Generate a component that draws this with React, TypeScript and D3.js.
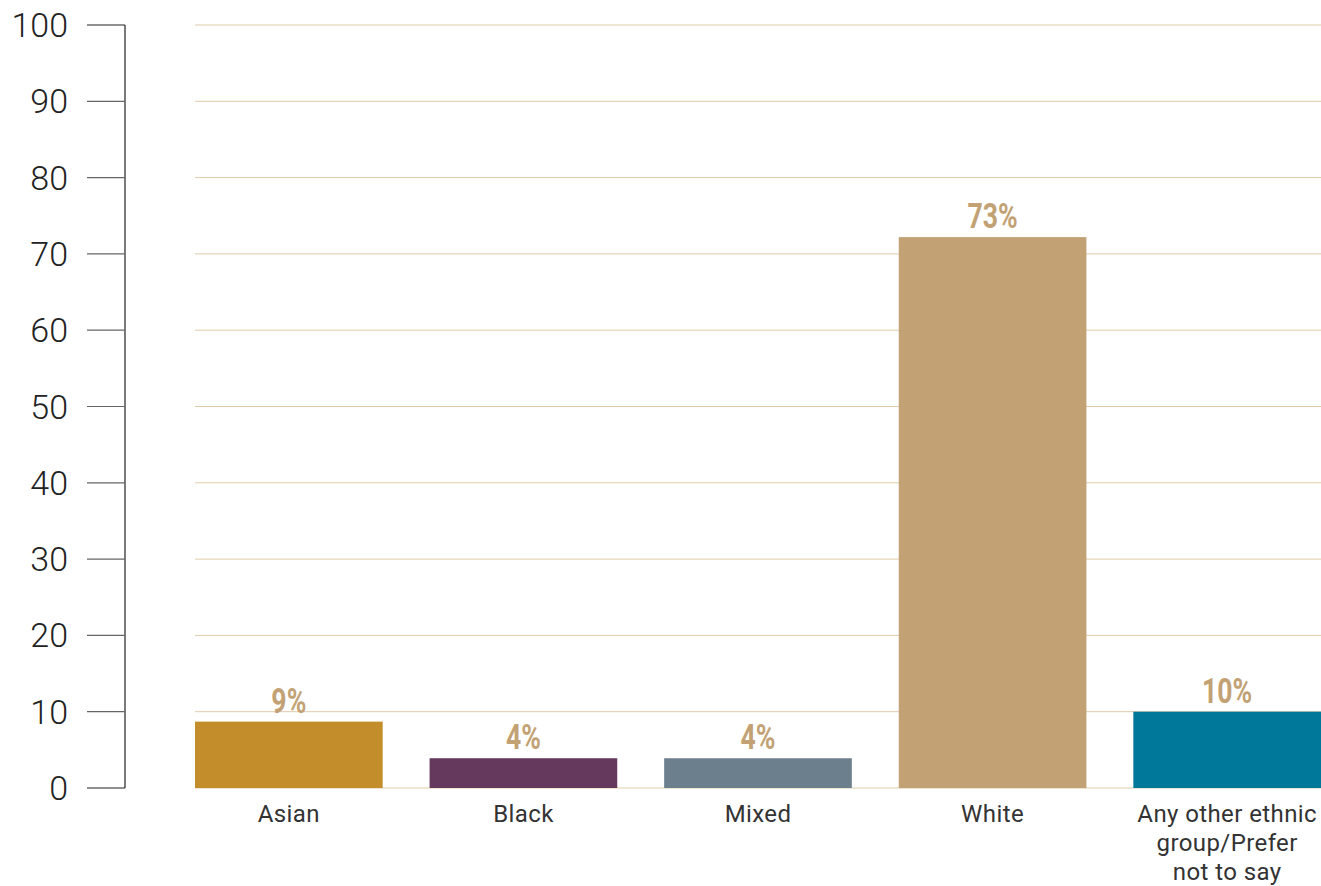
import React from "react";
import * as d3 from "d3";

const categories = ["Asian", "Black", "Mixed", "White", "Any other ethnic group/Prefer not to say"];
const categoryLines = [["Asian"], ["Black"], ["Mixed"], ["White"], ["Any other ethnic", "group/Prefer", "not to say"]];
const values = [8.7, 3.9, 3.9, 72.2, 10.0];
const valueLabels = ["9%", "4%", "4%", "73%", "10%"];
const colors = ["#c28d2a", "#65385e", "#6b7f8d", "#c2a275", "#00789a"];
const yTicks = [0, 10, 20, 30, 40, 50, 60, 70, 80, 90, 100];

const W = 1321;
const H = 886;

export default function App() {
  const y = d3.scaleLinear().domain([0, 100]).range([788, 25]);
  const x = d3.scaleBand<string>().domain(categories).range([195, 1321]).paddingInner(0.2).paddingOuter(0);
  const axisX = 125;
  return (
    <svg width={W} height={H} style={{ position: "absolute", left: 0, top: 0 }}>
      <rect width={W} height={H} fill="#fff" />
      {yTicks.map((t) => (
        <line key={"g" + t} x1={195} x2={1321} y1={y(t)} y2={y(t)} stroke="#e0cba8" strokeWidth={1} />
      ))}
      {categories.map((c, i) => (
        <rect key={c} x={x(c)} y={y(values[i])} width={x.bandwidth()} height={y(0) - y(values[i])} fill={colors[i]} />
      ))}
      {categories.map((c, i) => (
        <text
          key={"v" + c}
          transform={`translate(${(x(c) as number) + x.bandwidth() / 2},${y(values[i]) - 9}) scale(0.74,1)`}
          textAnchor="middle"
          fontFamily="Roboto, sans-serif"
          fontWeight={700}
          fontSize={36}
          fill="#c2a274"
        >
          {valueLabels[i]}
        </text>
      ))}
      <line x1={axisX} x2={axisX} y1={y(100)} y2={y(0)} stroke="#222" strokeWidth={1.2} />
      {yTicks.map((t) => (
        <g key={"t" + t}>
          <line x1={87} x2={axisX} y1={y(t)} y2={y(t)} stroke={t === 0 || t === 100 ? "#222" : "#666"} strokeWidth={1.2} />
          <text x={68} y={y(t) + 12} textAnchor="end" fontFamily="Roboto, sans-serif" fontWeight={300} fontSize={34} fill="#222">
            {t}
          </text>
        </g>
      ))}
      {categories.map((c, i) => (
        <text
          key={"c" + c}
          x={(x(c) as number) + x.bandwidth() / 2}
          y={822}
          textAnchor="middle"
          fontFamily="Roboto, sans-serif"
          fontWeight={400}
          fontSize={24}
          letterSpacing={0.4}
          fill="#333"
        >
          {categoryLines[i].map((line, j) => (
            <tspan key={j} x={(x(c) as number) + x.bandwidth() / 2} dy={j === 0 ? 0 : 29}>
              {line}
            </tspan>
          ))}
        </text>
      ))}
    </svg>
  );
}
